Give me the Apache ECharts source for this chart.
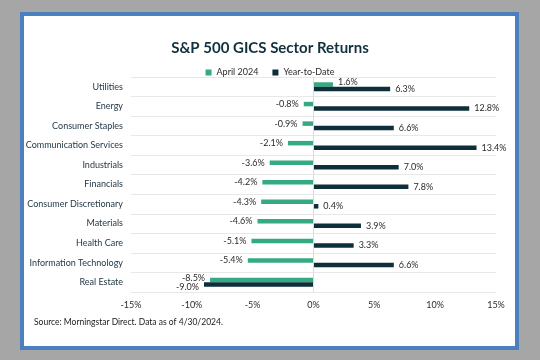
<!DOCTYPE html>
<html>
<head>
<meta charset="utf-8">
<script src="https://cdn.jsdelivr.net/npm/echarts@6/dist/echarts.min.js"></script>
<style>
html,body{margin:0;padding:0;background:#a6a6a6;}
#chart{width:540px;height:360px;}
</style>
</head>
<body>
<div id="chart"></div>
<script>
const categories = ['Utilities','Energy','Consumer Staples','Communication Services','Industrials','Financials','Consumer Discretionary','Materials','Health Care','Information Technology','Real Estate'];
const april2024 = [1.6,-0.8,-0.9,-2.1,-3.6,-4.2,-4.3,-4.6,-5.1,-5.4,-8.5];
const yearToDate = [6.3,12.8,6.6,13.4,7.0,7.8,0.4,3.9,3.3,6.6,-9.0];
const xTicks = {min:-15, max:15, interval:5};
const seriesNames = ['April 2024','Year-to-Date'];
const titleText = 'S&P 500 GICS Sector Returns';
const sourceText = 'Source: Morningstar Direct. Data as of 4/30/2024.';

const FONT = 'Lato';
const GREEN = '#35a982';
const DARK = '#0e2e3b';
const TXT = '#1d3340';

function buildData(vals, other, isDark){
  return vals.map((v,i)=>{
    const sameSign = (v<0) === (other[i]<0);
    let off = [0,0];
    if (sameSign) off = isDark ? [0, v<0 ? 3 : 0] : [0, -2];
    return {
      value: v,
      label: { position: v<0 ? 'left' : 'right', offset: off }
    };
  });
}

const chart = echarts.init(document.getElementById('chart'));
const lbl = {
  show:true, distance:5, fontFamily:FONT, fontSize:9, color:'#2b2b2b',
  formatter: p => p.value.toFixed(1) + '%'
};
chart.setOption({
  backgroundColor:'#a6a6a6',
  animation:false,
  graphic:[
    {type:'rect', z:-10, shape:{x:22,y:14,width:495,height:334}, style:{fill:'#ffffff', stroke:'#4b7fbe', lineWidth:4}},
    {type:'text', left:34, top:318, style:{text:sourceText, fontFamily:FONT, fontSize:8.5, fill:'#1a1a1a'}}
  ],
  title:{
    text:titleText, left:'center', top:36,
    textStyle:{fontFamily:FONT, fontWeight:'bold', fontSize:15, color:'#12303d'}
  },
  legend:{
    data:seriesNames, top:63, left:'center', itemWidth:6, itemHeight:6, itemGap:14,
    icon:'rect',
    textStyle:{fontFamily:FONT, fontSize:9, color:'#2b2b2b'}
  },
  grid:{left:131, right:44, top:77, bottom:68, containLabel:false},
  xAxis:{
    type:'value', min:xTicks.min, max:xTicks.max, interval:xTicks.interval,
    axisLine:{show:false}, axisTick:{show:false}, splitLine:{show:false},
    axisLabel:{formatter:'{value}%', fontFamily:FONT, fontSize:9, color:'#2b2b2b', margin:9}
  },
  yAxis:{
    type:'category', data:categories, inverse:true,
    axisLine:{show:false, onZero:false}, axisTick:{show:false},
    splitLine:{show:true, lineStyle:{color:'#e8e8e8', width:1}},
    axisLabel:{fontFamily:FONT, fontSize:9, color:TXT, margin:8}
  },
  series:[
    {
      name:seriesNames[0], type:'bar', data:buildData(april2024, yearToDate, false),
      barWidth:4.5, barGap:'0%', itemStyle:{color:GREEN}, label:lbl,
      markLine:{silent:true, symbol:'none', label:{show:false},
        lineStyle:{color:'#dcdcdc', type:'solid', width:1}, data:[{xAxis:0}]}
    },
    {
      name:seriesNames[1], type:'bar', data:buildData(yearToDate, april2024, true),
      barWidth:4.5, barGap:'0%', itemStyle:{color:DARK}, label:lbl
    }
  ]
});
</script>
</body>
</html>
